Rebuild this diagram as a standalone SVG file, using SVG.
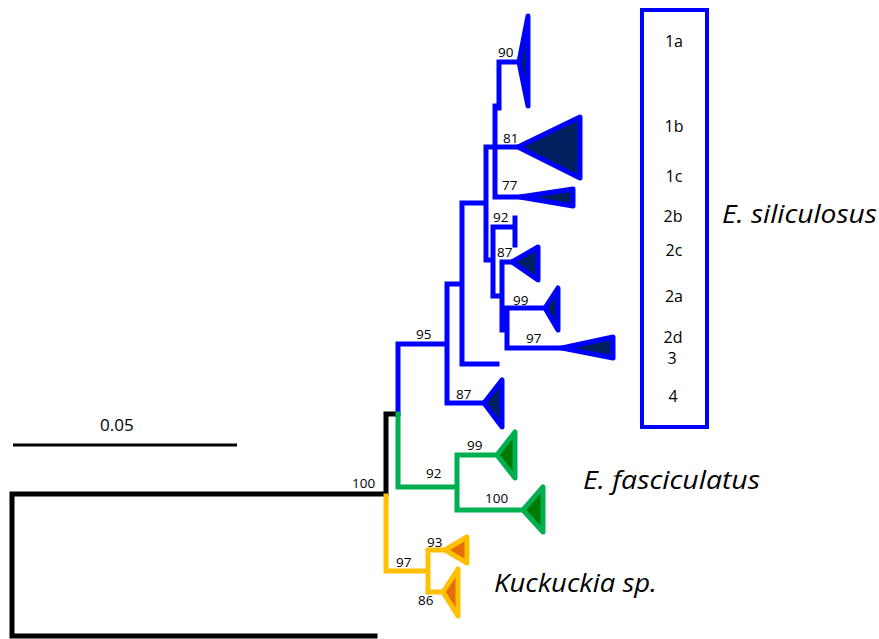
<svg xmlns="http://www.w3.org/2000/svg" width="879" height="639" viewBox="0 0 879 639">
<style>
.b{stroke:#0000FF;stroke-width:5;fill:none;stroke-linecap:square}
.g{stroke:#00B050;stroke-width:5;fill:none;stroke-linecap:square}
.y{stroke:#FFC000;stroke-width:5;fill:none;stroke-linecap:square}
.k{stroke:#000;stroke-width:5;fill:none;stroke-linecap:square}
.tb{fill:#002060;stroke:#0000FF;stroke-width:5;stroke-linejoin:round}
.tg{fill:#007A00;stroke:#00B050;stroke-width:5;stroke-linejoin:round}
.ty{fill:#E46C0A;stroke:#FFC000;stroke-width:5;stroke-linejoin:round}
.l{font-family:"Open Sans","DejaVu Sans",sans-serif;font-size:13.5px;fill:#000}
.m{font-family:"Open Sans","DejaVu Sans",sans-serif;font-size:16px;fill:#000;text-anchor:middle}
.sp{font-family:"Open Sans","Liberation Sans",sans-serif;font-style:italic;font-size:26px;fill:#000}
</style>
<rect width="879" height="639" fill="#fff"/>
<g id="connectors">
<path class="k" d="M375,636 H12 V494 H386 V414 H397"/>
<path class="k" d="M13,445 H237" style="stroke-width:3;stroke-linecap:butt"/>
<path class="b" d="M398,414 V344 H447 M447,284 V403 H484 M447,284 H462 M462,203 V364 H497 M462,203 H486 M486,147 V260 H493 M486,147 H518 M499,62 V108 M495,106 V197 H520 M499,62 H519 M493,227 V292 M493,227 H515 M515,218 V245 M502,262 V330 M502,262 H512 M493,296 H500 M507,308 V348 H562 M507,308 H545"/>
<path class="g" d="M398,414 V487 H457 M457,455 V510 M457,455 H497 M457,510 H523"/>
<path class="y" d="M386,496 V571 H428 M428,550 V592 M428,550 H445 M428,592 H443"/>
</g>
<g id="scale"><text class="l" x="100" y="431" style="font-size:17px">0.05</text></g>
<g id="root"><text class="l" x="352" y="488">100</text></g>
<g id="clade-90"><polygon class="tb" points="519,62 528,16 528,106"/><text class="l" x="498" y="57">90</text></g>
<g id="clade-81"><polygon class="tb" points="518,147 580,117 580,178"/><text class="l" x="503" y="143">81</text></g>
<g id="clade-77"><polygon class="tb" points="520,197 573,189 573,206"/><text class="l" x="502" y="190">77</text></g>
<g id="clade-92b"><text class="l" x="493" y="222">92</text></g>
<g id="clade-87a"><polygon class="tb" points="512,262 538,247 538,280"/><text class="l" x="497" y="257">87</text></g>
<g id="clade-99b"><polygon class="tb" points="545,308 558,288 558,330"/><text class="l" x="513" y="305">99</text></g>
<g id="clade-97b"><polygon class="tb" points="562,348 613,337 613,358"/><text class="l" x="526" y="343">97</text></g>
<g id="clade-95"><text class="l" x="416" y="339">95</text></g>
<g id="clade-87b"><polygon class="tb" points="484,403 502,380 502,427"/><text class="l" x="456" y="399">87</text></g>
<g id="clade-92g"><text class="l" x="426" y="478">92</text></g>
<g id="clade-99g"><polygon class="tg" points="497,455 515,432 515,478"/><text class="l" x="467" y="450">99</text></g>
<g id="clade-100g"><polygon class="tg" points="523,510 543,487 543,532"/><text class="l" x="485" y="503">100</text></g>
<g id="clade-97y"><text class="l" x="396" y="567">97</text></g>
<g id="clade-93"><polygon class="ty" points="445,550 467,537 467,563"/><text class="l" x="427" y="547">93</text></g>
<g id="clade-86"><polygon class="ty" points="443,592 458,569 458,616"/><text class="l" x="418" y="605">86</text></g>
<g id="groups">
<rect x="642" y="10" width="65" height="417" fill="none" stroke="#0000FF" stroke-width="4"/>
<text class="m" x="674" y="47">1a</text>
<text class="m" x="674" y="132">1b</text>
<text class="m" x="674" y="182">1c</text>
<text class="m" x="673" y="222">2b</text>
<text class="m" x="674" y="256">2c</text>
<text class="m" x="674" y="302">2a</text>
<text class="m" x="673" y="343">2d</text>
<text class="m" x="672" y="364">3</text>
<text class="m" x="673" y="402">4</text>
</g>
<g id="species">
<text class="sp" x="722" y="223" textLength="155" lengthAdjust="spacingAndGlyphs">E. siliculosus</text>
<text class="sp" x="583" y="489" textLength="177" lengthAdjust="spacingAndGlyphs">E. fasciculatus</text>
<text class="sp" x="494" y="592" textLength="163" lengthAdjust="spacingAndGlyphs">Kuckuckia sp.</text>
</g>
</svg>
